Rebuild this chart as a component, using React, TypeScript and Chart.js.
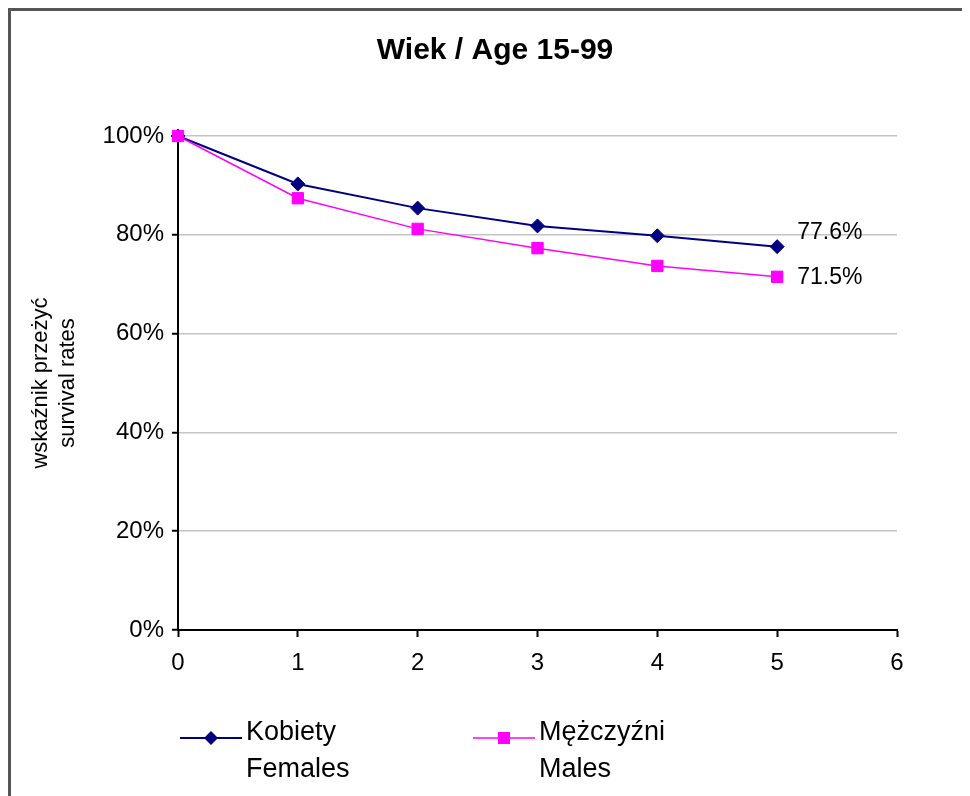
import React, { useEffect, useRef } from "react";
import { Chart, registerables } from "chart.js";

Chart.register(...registerables);

const chartTitle = "Wiek / Age 15-99";
const yAxisTitle = ["wskaźnik przeżyć", "survival rates"];
const xValues = [0, 1, 2, 3, 4, 5];
const femalesValues = [100, 90.3, 85.4, 81.8, 79.8, 77.6];
const malesValues = [100, 87.4, 81.2, 77.3, 73.7, 71.5];
const femalesLabel = ["Kobiety", "Females"];
const malesLabel = ["Mężczyźni", "Males"];
const xTickMin = 0;
const xTickMax = 6;
const yTickMin = 0;
const yTickMax = 100;
const yTickStep = 20;

const FONT = '"Liberation Sans", Arial, sans-serif';
const NAVY = "#000080";
const MAGENTA = "#FF00FF";

const overlayPlugin = {
  id: "overlay",
  afterDatasetsDraw(chart: any) {
    const ctx = chart.ctx;
    ctx.save();
    // chart title
    ctx.fillStyle = "#000";
    ctx.font = `bold 30px ${FONT}`;
    ctx.textAlign = "center";
    ctx.textBaseline = "middle";
    ctx.fillText(chartTitle, 484, 40);

    // end value labels
    ctx.font = `23px ${FONT}`;
    ctx.textAlign = "left";
    const offsets = [-14, 1];
    chart.data.datasets.forEach((ds: any, i: number) => {
      const meta = chart.getDatasetMeta(i);
      const last = meta.data[meta.data.length - 1];
      const v = ds.data[ds.data.length - 1].y;
      ctx.fillText(`${v.toFixed(1)}%`, last.x + 20, last.y + offsets[i]);
    });

    // legend
    const items = [
      { x: 169, color: NAVY, style: "diamond", text: femalesLabel, lw: 2 },
      { x: 462, color: MAGENTA, style: "square", text: malesLabel, lw: 1.5 },
    ];
    const ly = 727;
    items.forEach((it) => {
      ctx.strokeStyle = it.color;
      ctx.fillStyle = it.color;
      ctx.lineWidth = it.lw;
      ctx.beginPath();
      ctx.moveTo(it.x, ly);
      ctx.lineTo(it.x + 62, ly);
      ctx.stroke();
      const mx = it.x + 31;
      ctx.beginPath();
      if (it.style === "diamond") {
        ctx.moveTo(mx - 7, ly);
        ctx.lineTo(mx, ly - 7);
        ctx.lineTo(mx + 7, ly);
        ctx.lineTo(mx, ly + 7);
        ctx.closePath();
      } else {
        ctx.rect(mx - 6, ly - 6, 12, 12);
      }
      ctx.fill();
      ctx.fillStyle = "#000";
      ctx.font = `27px ${FONT}`;
      ctx.textAlign = "left";
      ctx.textBaseline = "middle";
      ctx.fillText(it.text[0], it.x + 66, 722);
      ctx.fillText(it.text[1], it.x + 66, 759);
    });
    ctx.restore();
  },
};

export default function App() {
  const canvasRef = useRef<HTMLCanvasElement | null>(null);

  useEffect(() => {
    if (!canvasRef.current) return;
    const chart = new Chart(canvasRef.current, {
      type: "line",
      data: {
        datasets: [
          {
            label: femalesLabel.join(" "),
            data: xValues.map((x, i) => ({ x, y: femalesValues[i] })),
            borderColor: NAVY,
            backgroundColor: NAVY,
            borderWidth: 2,
            pointStyle: "rectRot",
            pointRadius: 7,
            pointBorderWidth: 1,
            tension: 0,
            order: 1,
            clip: false,
          },
          {
            label: malesLabel.join(" "),
            data: xValues.map((x, i) => ({ x, y: malesValues[i] })),
            borderColor: MAGENTA,
            backgroundColor: MAGENTA,
            borderWidth: 1.5,
            pointStyle: "rect",
            pointRadius: 8,
            pointBorderWidth: 1,
            tension: 0,
            order: 0,
            clip: false,
          },
        ],
      },
      options: {
        animation: false,
        responsive: true,
        maintainAspectRatio: false,
        layout: { padding: { top: 125, left: 0, right: 73, bottom: 0 } },
        plugins: {
          legend: { display: false },
          title: { display: false },
          tooltip: { enabled: false },
        },
        scales: {
          x: {
            type: "linear",
            min: xTickMin,
            max: xTickMax,
            afterFit: (s: any) => {
              s.height = 166;
            },
            ticks: {
              stepSize: 1,
              color: "#000",
              padding: 12,
              font: { family: FONT, size: 24 },
            },
            grid: {
              drawOnChartArea: false,
              drawTicks: true,
              tickLength: 7,
              tickColor: "#000",
              tickWidth: 2,
            },
            border: { color: "#000", width: 2 },
          },
          y: {
            type: "linear",
            min: yTickMin,
            max: yTickMax,
            afterFit: (s: any) => {
              s.width = 167;
            },
            ticks: {
              stepSize: yTickStep,
              color: "#000",
              padding: 8,
              font: { family: FONT, size: 24 },
              callback: (v: any) => `${v}%`,
            },
            grid: {
              color: "#c4c4c4",
              lineWidth: 1.5,
              drawTicks: true,
              tickLength: 6,
              tickColor: "#000",
              tickWidth: 2,
            },
            border: { color: "#000", width: 2 },
            title: {
              display: true,
              text: yAxisTitle,
              color: "#000",
              font: { family: FONT, size: 22, lineHeight: 1.25 },
              padding: { top: 16, bottom: 0 },
            },
          },
        },
      },
      plugins: [overlayPlugin],
    });
    return () => chart.destroy();
  }, []);

  return (
    <div
      style={{
        width: 959,
        height: 785,
        borderTop: "3px solid #555",
        borderLeft: "3px solid #555",
        position: "relative",
        background: "#fff",
      }}
    >
      <canvas ref={canvasRef} style={{ display: "block" }} />
    </div>
  );
}
